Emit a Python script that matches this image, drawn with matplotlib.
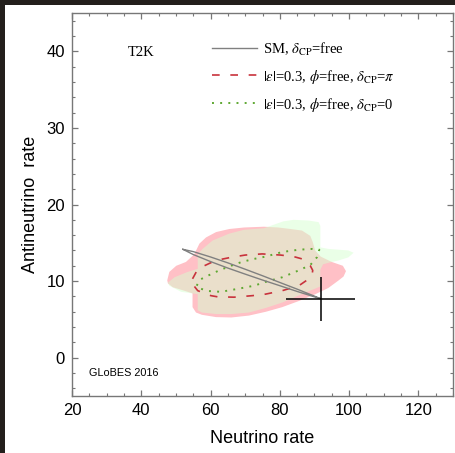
import matplotlib
matplotlib.use("Agg")
import matplotlib.pyplot as plt
from matplotlib.patches import Polygon, Rectangle

plt.rcParams['mathtext.fontset'] = 'stix'

# ---- data ----
pink_x = [47.5, 48.1, 50.1, 52.9, 55.3, 56.8, 58.7, 61.6, 65.4, 69.7, 75.4, 79.5, 83.1, 86.4,
          88.8, 89.5, 90.2, 91.8, 95.0, 98.2, 99.1, 98.4, 97.0, 94.0, 90.3, 85.5, 80.7, 76.0,
          71.1, 66.0, 61.6, 57.5, 55.8, 54.8, 54.8, 52.0, 49.1, 47.7]
pink_y = [10.1, 11.2, 12.0, 12.5, 13.5, 14.9, 15.7, 16.4, 16.8, 17.0, 17.1, 17.0, 16.8, 16.6,
          15.9, 15.1, 14.0, 13.2, 12.5, 12.0, 11.3, 10.6, 10.1, 9.1, 8.3, 7.4, 6.6, 6.0,
          5.5, 5.25, 5.3, 5.6, 5.9, 6.6, 8.4, 8.8, 9.2, 9.7]

green_x = [47.7, 49.6, 53.4, 56.3, 56.3, 57.7, 60.6, 65.4, 69.7, 75.4, 78.5, 81.0, 84.0, 88.4,
           91.2, 91.7, 91.7, 94.1, 99.8, 101.3, 99.8, 97.0, 95.0, 92.5, 91.7, 91.7, 87.4, 80.7,
           76.0, 71.1, 66.0, 61.6, 57.5, 56.3, 56.3, 51.5, 48.1]
green_y = [9.8, 10.5, 11.2, 11.6, 13.5, 14.2, 15.3, 16.2, 16.7, 16.9, 17.4, 17.8, 18.0, 17.9,
           17.7, 17.2, 14.4, 14.2, 14.0, 13.7, 13.1, 12.7, 12.5, 12.2, 11.5, 9.3, 8.5, 7.2,
           6.5, 5.9, 5.7, 5.7, 5.9, 6.2, 8.3, 8.6, 9.4]

sm_x = [52.0, 55, 60, 65, 70, 75, 80, 85, 89, 91.8, 89, 85, 80, 75, 70, 65, 60, 55, 52.0]
sm_y = [14.15, 13.85, 13.15, 12.38, 11.55, 10.70, 9.82, 8.95, 8.22, 7.70,
        8.08, 8.65, 9.40, 10.14, 10.91, 11.70, 12.55, 13.47, 14.15]

red_x = [54.8, 56.0, 58.2, 61.5, 65.9, 70.0, 74.9, 80.2, 84.0, 86.4, 88.8, 89.5, 89.3, 88.4,
         85.5, 80.7, 75.9, 72.1, 66.8, 62.0, 60.1, 56.3, 55.0, 54.8]
red_y = [10.3, 11.3, 12.0, 12.7, 13.1, 13.4, 13.55, 13.4, 13.2, 12.9, 12.0, 11.4, 10.8, 10.3,
         9.4, 8.75, 8.3, 8.1, 7.9, 7.95, 8.1, 8.75, 9.5, 10.3]

grn_x = [56.0, 57.0, 59.2, 62.5, 65.9, 69.0, 72.6, 75.9, 80.7, 85.5, 89.3, 91.4, 90.7, 88.8,
         85.5, 80.7, 75.9, 72.6, 68.0, 63.0, 59.5, 57.2, 56.0]
grn_y = [9.4, 10.2, 10.7, 11.4, 12.0, 12.5, 12.9, 13.2, 13.8, 14.1, 14.2, 14.1, 13.1, 12.1,
         11.4, 10.5, 9.9, 9.4, 9.0, 8.6, 8.7, 9.0, 9.4]

true_point = (91.8, 7.7)
true_err = (10.0, 2.85)

labels = [r'SM, $\delta_{\rm CP}$=free',
          r'$|\varepsilon|$=0.3, $\phi$=free, $\delta_{\rm CP}$=$\pi$',
          r'$|\varepsilon|$=0.3, $\phi$=free, $\delta_{\rm CP}$=0']

x_major = [20, 40, 60, 80, 100, 120]
y_major = [0, 10, 20, 30, 40]

# ---- figure ----
fig = plt.figure(figsize=(4.55, 4.53), dpi=100)
ax = fig.add_axes([72/455, 1-396/453, 381/455, 383/453])

ax.add_patch(Polygon(list(zip(pink_x, pink_y)), closed=True, facecolor='#ffc0c6',
                     edgecolor='none', zorder=1))
ax.add_patch(Polygon(list(zip(green_x, green_y)), closed=True, facecolor='#d6ffd0',
                     alpha=0.5, edgecolor='none', zorder=2))

l1, = ax.plot(sm_x, sm_y, color='#808080', lw=1.0, zorder=5)
l2, = ax.plot(red_x, red_y, color='#c8323c', lw=1.2, dashes=(4.6, 6.4), zorder=4)
l3, = ax.plot(grn_x, grn_y, color='#5fa832', lw=1.4, dashes=(1.0, 3.2), zorder=4)

ax.errorbar([true_point[0]], [true_point[1]], xerr=[true_err[0]], yerr=[true_err[1]],
            fmt='none', ecolor='black', elinewidth=1.1, capsize=0, zorder=6)

ax.set_xlim(20, 130)
ax.set_ylim(-5, 45)
ax.set_xticks(x_major)
ax.set_yticks(y_major)
ax.set_xticks(range(20, 131, 5), minor=True)
ax.set_yticks(range(-4, 45, 2), minor=True)
ax.tick_params(which='both', direction='in', top=True, right=True, color='#777777',
               labelsize=12, pad=5)
ax.tick_params(which='major', length=4.5, width=0.9)
ax.tick_params(which='minor', length=2.5, width=0.8)
for lab in ax.get_xticklabels() + ax.get_yticklabels():
    lab.set_fontfamily('Liberation Sans')
for s in ax.spines.values():
    s.set_color('#777777')
    s.set_linewidth(1.0)

ax.set_xlabel('Neutrino rate', fontsize=13, family='Liberation Sans', labelpad=9)
ax.set_ylabel('Antineutrino  rate', fontsize=13, family='Liberation Sans', labelpad=5)

ax.text(0.147, 0.897, 'T2K', transform=ax.transAxes, fontsize=10.5,
        family='Liberation Serif', va='center', ha='left')
ax.text(0.045, 0.06, 'GLoBES 2016', transform=ax.transAxes, fontsize=7.8,
        family='Liberation Sans', va='center', ha='left')

leg = ax.legend([l1, l2, l3], labels, loc='upper left', bbox_to_anchor=(0.368, 0.928),
                frameon=False, handlelength=3.1, handletextpad=0.35, labelspacing=0.68,
                borderpad=0, borderaxespad=0,
                prop={'family': 'Liberation Serif', 'size': 10.5})

# dark screenshot border (top and left)
fig.patches.append(Rectangle((0, 1-5/453), 1, 5/453, transform=fig.transFigure,
                             facecolor='#231f1c', edgecolor='none'))
fig.patches.append(Rectangle((0, 0), 5/455, 1, transform=fig.transFigure,
                             facecolor='#231f1c', edgecolor='none'))

fig.savefig('out.png', dpi=100)
